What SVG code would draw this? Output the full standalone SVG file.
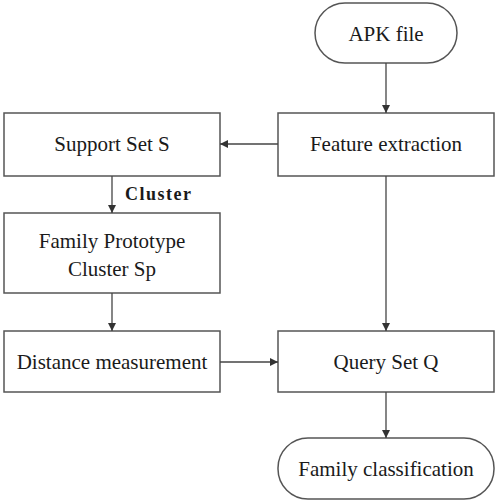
<svg xmlns="http://www.w3.org/2000/svg" width="496" height="504" viewBox="0 0 496 504">
<defs>
<marker id="ah" viewBox="0 0 10 10" refX="10" refY="5" markerWidth="8" markerHeight="8" markerUnits="userSpaceOnUse" orient="auto">
<path d="M0,0 L10,5 L0,10 z" fill="#333"/>
</marker>
<style>
.box{fill:#fff;stroke:#555;stroke-width:1.5}
.t{font-family:"Liberation Serif","Times New Roman",serif;font-size:21px;fill:#1a1a1a;text-anchor:middle}
.c{stroke:#444;stroke-width:1.3;fill:none;marker-end:url(#ah)}
</style>
</defs>
<rect width="496" height="504" fill="#fff"/>
<g id="apk"><rect class="box" x="315" y="3" width="142" height="60" rx="30"/><text class="t" x="386" y="41">APK file</text></g>
<g id="feature"><rect class="box" x="278" y="113" width="216" height="63"/><text class="t" x="386" y="151">Feature extraction</text></g>
<g id="support"><rect class="box" x="4" y="113" width="216" height="63"/><text class="t" x="112" y="151">Support Set S</text></g>
<g id="prototype"><rect class="box" x="4" y="213" width="216" height="80"/><text class="t" x="112" y="248">Family Prototype</text><text class="t" x="112" y="276">Cluster Sp</text></g>
<g id="distance"><rect class="box" x="4" y="331" width="216" height="61"/><text class="t" x="112" y="369">Distance measurement</text></g>
<g id="query"><rect class="box" x="278" y="331" width="216" height="61"/><text class="t" x="386" y="369">Query Set Q</text></g>
<g id="classification"><rect class="box" x="278" y="438" width="216" height="61" rx="30"/><text class="t" x="386" y="476">Family classification</text></g>
<g id="connectors">
<line class="c" x1="386" y1="63" x2="386" y2="113"/>
<line class="c" x1="278" y1="144" x2="220" y2="144"/>
<line class="c" x1="112" y1="176" x2="112" y2="213"/>
<line class="c" x1="112" y1="293" x2="112" y2="331"/>
<line class="c" x1="220" y1="362" x2="278" y2="362"/>
<line class="c" x1="386" y1="176" x2="386" y2="331"/>
<line class="c" x1="386" y1="392" x2="386" y2="438"/>
<text x="125" y="200" style="font-family:'Liberation Serif','Times New Roman',serif;font-size:18px;font-weight:bold;fill:#1a1a1a;letter-spacing:1.5px">Cluster</text>
</g>
</svg>
